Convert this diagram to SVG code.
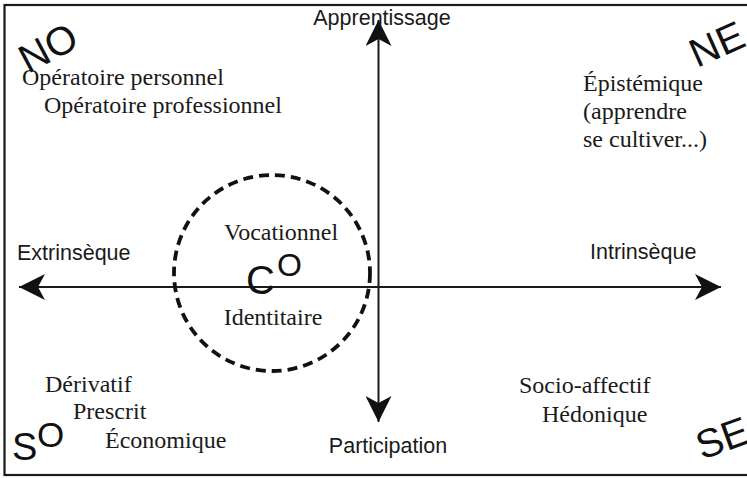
<svg xmlns="http://www.w3.org/2000/svg" width="747" height="478" viewBox="0 0 747 478">
<style>
.serif{font-family:"Liberation Serif","Times New Roman",serif;font-size:24px;fill:#1a1a1a}
.sans{font-family:"Liberation Sans",Arial,sans-serif;font-size:21.5px;fill:#1a1a1a}
.corner{font-family:"Liberation Sans",Arial,sans-serif;font-size:40px;fill:#111}
.axis{stroke:#1a1a1a;stroke-width:2;fill:none}
</style>
<defs>
<marker id="arr" markerUnits="userSpaceOnUse" markerWidth="27" markerHeight="26" viewBox="0 0 27 26" refX="26" refY="13" orient="auto-start-reverse">
<path d="M26 13 L0 0 L7 13 L0 26 Z" fill="#111"/>
</marker>
</defs>
<rect x="4.5" y="5" width="760" height="470" fill="#fff" stroke="#1a1a1a" stroke-width="2.2"/>
<g id="connectors">
<line class="axis" x1="19" y1="287" x2="721" y2="287" marker-start="url(#arr)" marker-end="url(#arr)"/>
<line class="axis" x1="378.5" y1="20" x2="378.5" y2="422" marker-start="url(#arr)" marker-end="url(#arr)"/>
</g>
<g id="CO">
<circle cx="272" cy="273" r="98" fill="none" stroke="#111" stroke-width="3.8" stroke-dasharray="10 6"/>
<text class="serif" x="281" y="240" text-anchor="middle">Vocationnel</text>
<text class="serif" x="273" y="325" text-anchor="middle">Identitaire</text>
<text class="corner" x="246" y="294" style="font-size:40px">C<tspan x="277" y="276" style="font-size:32px">O</tspan></text>
</g>
<g id="axis-labels">
<text class="sans" x="382" y="25" text-anchor="middle">Apprentissage</text>
<text class="sans" x="388" y="453" text-anchor="middle">Participation</text>
<text class="sans" x="17" y="260">Extrinsèque</text>
<text class="sans" x="590" y="259">Intrinsèque</text>
</g>
<g id="NO">
<text class="corner" transform="translate(28,74) rotate(-28)">NO</text>
<text class="serif" x="22" y="85">Opératoire personnel</text>
<text class="serif" x="44" y="113">Opératoire professionnel</text>
</g>
<g id="NE">
<text class="corner" transform="translate(697,68) rotate(-24)">NE</text>
<text class="serif" x="583" y="91">Épistémique</text>
<text class="serif" x="583" y="119">(apprendre</text>
<text class="serif" x="583" y="147">se cultiver...)</text>
</g>
<g id="SO">
<text class="corner" x="12" y="460" style="font-size:38px">S<tspan x="37" y="447" style="font-size:35px">O</tspan></text>
<text class="serif" x="45" y="392">Dérivatif</text>
<text class="serif" x="73" y="419">Prescrit</text>
<text class="serif" x="105" y="448">Économique</text>
</g>
<g id="SE">
<text class="corner" transform="translate(702,460) rotate(-20)">SE</text>
<text class="serif" x="519" y="393">Socio-affectif</text>
<text class="serif" x="542" y="422">Hédonique</text>
</g>
</svg>
